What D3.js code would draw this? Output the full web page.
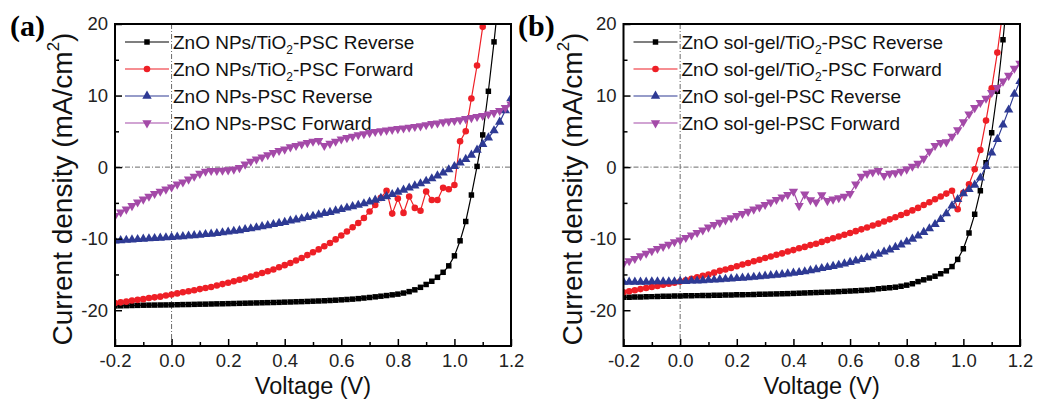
<!DOCTYPE html>
<html>
<head>
<meta charset="utf-8">
<script src="https://cdn.jsdelivr.net/npm/d3@7"></script>
<style>
  body { margin: 0; background: #fff; }
  svg { display: block; font-family: "Liberation Sans", Arial, sans-serif; }
</style>
</head>
<body>
<svg id="chart" width="1037" height="400"></svg>
<script>
// voltage sweep grid (V): every series starts at -0.2 V, 0.02 V per point
var voltStart = -0.2, voltStep = 0.02;

// panel (a) current densities, mA/cm2
var npsTiO2Rev = [-19.4,-19.38,-19.36,-19.34,-19.32,-19.3,-19.29,-19.28,-19.27,-19.26,
  -19.25,-19.23,-19.21,-19.2,-19.18,-19.16,-19.15,-19.13,-19.11,-19.1,
  -19.08,-19.06,-19.04,-19.02,-19.0,-18.98,-18.96,-18.94,-18.92,-18.9,
  -18.87,-18.85,-18.82,-18.8,-18.77,-18.74,-18.71,-18.68,-18.64,-18.6,
  -18.55,-18.5,-18.45,-18.38,-18.3,-18.22,-18.13,-18.04,-17.95,-17.85,
  -17.75,-17.6,-17.4,-17.15,-16.8,-16.4,-15.95,-15.4,-14.7,-13.8,
  -12.4,-10.3,-7.6,-3.9,0.1,4.5,10.6,17.5,25];
var npsTiO2Fwd = [-19.0,-18.9,-18.8,-18.65,-18.55,-18.45,-18.3,-18.2,-18.1,-17.95,
  -17.8,-17.65,-17.5,-17.35,-17.2,-17.05,-16.9,-16.75,-16.55,-16.35,
  -16.15,-15.95,-15.75,-15.55,-15.3,-15.05,-14.8,-14.55,-14.3,-14.0,
  -13.7,-13.4,-13.05,-12.7,-12.3,-11.9,-11.5,-11.05,-10.6,-10.1,
  -9.55,-9.0,-8.4,-7.8,-7.1,-6.2,-5.3,-4.3,-3.3,-6.5,
  -4.4,-6.4,-4.1,-5.7,-6.1,-3.4,-4.6,-4.6,-2.9,-3.1,
  -2.5,3.6,5.0,9.6,14.2,19.6,26];
var npsRev = [-10.3,-10.25,-10.2,-10.15,-10.1,-10.05,-10.0,-9.95,-9.9,-9.85,
  -9.8,-9.75,-9.7,-9.6,-9.55,-9.5,-9.4,-9.35,-9.25,-9.15,
  -9.05,-8.95,-8.85,-8.7,-8.6,-8.45,-8.3,-8.15,-8.0,-7.85,
  -7.7,-7.5,-7.35,-7.2,-7.0,-6.85,-6.65,-6.45,-6.3,-6.1,
  -5.9,-5.7,-5.5,-5.3,-5.1,-4.85,-4.6,-4.35,-4.1,-3.8,
  -3.5,-3.2,-2.9,-2.6,-2.3,-1.95,-1.6,-1.2,-0.8,-0.35,
  0.1,0.6,1.1,1.7,2.4,3.2,4.1,5.1,6.3,7.9,9.6];
var npsFwd = [-6.8,-6.3,-5.9,-5.4,-4.9,-4.5,-4.1,-3.7,-3.4,-3.1,
  -2.8,-2.4,-2.1,-1.7,-1.3,-0.9,-0.6,-0.5,-0.5,-0.45,
  -0.4,-0.3,-0.1,0.4,0.8,1.1,1.4,1.7,2.0,2.3,
  2.5,2.8,3.0,3.2,3.4,3.6,3.7,3.0,3.3,3.6,
  3.9,4.1,4.3,4.5,4.65,4.8,4.95,5.05,5.15,5.25,
  5.35,5.45,5.55,5.65,5.75,5.9,6.05,6.15,6.3,6.4,
  6.5,6.6,6.75,6.9,7.05,7.2,7.4,7.6,7.9,8.3,8.8];

// panel (b) current densities, mA/cm2
var solTiO2Rev = [-18.2,-18.18,-18.16,-18.14,-18.12,-18.1,-18.08,-18.06,-18.04,-18.02,
  -18.0,-17.99,-17.97,-17.96,-17.94,-17.93,-17.91,-17.9,-17.88,-17.87,
  -17.85,-17.84,-17.82,-17.8,-17.78,-17.76,-17.74,-17.72,-17.7,-17.68,
  -17.65,-17.62,-17.59,-17.56,-17.53,-17.5,-17.47,-17.44,-17.4,-17.36,
  -17.32,-17.28,-17.23,-17.18,-17.12,-17.0,-16.93,-16.86,-16.78,-16.65,
  -16.5,-16.3,-16.0,-15.75,-15.5,-15.25,-14.9,-14.5,-13.9,-12.9,
  -11.4,-9.2,-6.6,-3.3,0.6,4.8,10.6,17.8,26];
var solTiO2Fwd = [-17.5,-17.35,-17.2,-17.05,-16.9,-16.75,-16.6,-16.45,-16.3,-16.15,
  -16.0,-15.8,-15.6,-15.4,-15.2,-15.0,-14.75,-14.5,-14.3,-14.1,
  -13.85,-13.6,-13.4,-13.15,-12.95,-12.7,-12.5,-12.25,-12.05,-11.8,
  -11.6,-11.35,-11.15,-10.9,-10.7,-10.45,-10.2,-9.95,-9.7,-9.45,
  -9.2,-8.95,-8.7,-8.45,-8.15,-7.9,-7.6,-7.3,-7.0,-6.7,
  -6.4,-6.05,-5.7,-5.3,-4.9,-4.5,-4.1,-3.7,-3.3,-5.9,
  -3.6,-2.4,-0.3,2.4,6.5,11.0,16.0,22.0];
var solRev = [-16.05,-16.05,-16.05,-16.05,-16.05,-16.0,-16.0,-16.0,-16.0,-16.0,
  -15.95,-15.95,-15.9,-15.9,-15.85,-15.8,-15.75,-15.7,-15.65,-15.6,
  -15.55,-15.5,-15.45,-15.38,-15.3,-15.22,-15.15,-15.08,-15.0,-14.9,
  -14.8,-14.7,-14.6,-14.45,-14.3,-14.15,-14.0,-13.85,-13.7,-13.5,
  -13.3,-13.1,-12.9,-12.65,-12.4,-12.15,-11.85,-11.55,-11.2,-10.85,
  -10.45,-10.05,-9.6,-9.1,-8.6,-8.0,-7.3,-6.5,-5.4,-4.5,
  -3.7,-3.1,-2.5,-1.5,0.1,2.0,3.9,5.9,8.0,10.2,12.0];
var solFwd = [-13.5,-13.1,-12.8,-12.4,-12.05,-11.7,-11.4,-11.1,-10.8,-10.45,
  -10.2,-9.85,-9.5,-9.15,-8.8,-8.4,-8.05,-7.75,-7.4,-7.1,
  -6.8,-6.5,-6.2,-5.9,-5.6,-5.25,-4.9,-4.55,-4.2,-3.85,
  -3.4,-5.4,-3.8,-4.6,-4.9,-3.9,-4.7,-4.5,-4.3,-4.1,
  -3.7,-2.4,-1.3,-0.9,-0.7,-0.5,-1.2,-0.9,-0.8,-0.6,
  -0.3,0.1,0.5,1.2,2.2,3.0,3.4,3.5,4.3,5.2,
  6.3,7.4,8.3,9.0,9.6,10.4,11.1,12.0,12.8,13.8,14.5];

var legendA = ["ZnO NPs/TiO_2-PSC Reverse", "ZnO NPs/TiO_2-PSC Forward", "ZnO NPs-PSC Reverse", "ZnO NPs-PSC Forward"];
var legendB = ["ZnO sol-gel/TiO_2-PSC Reverse", "ZnO sol-gel/TiO_2-PSC Forward", "ZnO sol-gel-PSC Reverse", "ZnO sol-gel-PSC Forward"];

var xTicks = [-0.2, 0, 0.2, 0.4, 0.6, 0.8, 1.0, 1.2];
var xMinor = [-0.1, 0.1, 0.3, 0.5, 0.7, 0.9, 1.1];
var yTicks = [-20, -10, 0, 10, 20];
var yMinor = [-15, -5, 5, 15];

var colors = ["#000000", "#ee1f26", "#2e3a94", "#a44aa8"];
var shapes = ["square", "circle", "up", "down"];

var svg = d3.select("#chart");

var panels = [
  { tag: "(a)", tagX: 10, left: 115, right: 511, top: 24, bottom: 346, titleX: 72,
    series: [npsTiO2Rev, npsTiO2Fwd, npsRev, npsFwd], legend: legendA },
  { tag: "(b)", tagX: 518, left: 623.5, right: 1020, top: 24, bottom: 346, titleX: 582,
    series: [solTiO2Rev, solTiO2Fwd, solRev, solFwd], legend: legendB }
];

function symbolPath(kind) {
  if (kind == "square") return d3.symbol(d3.symbolSquare, 30)();
  if (kind == "circle") return d3.symbol(d3.symbolCircle, 34)();
  return d3.symbol(d3.symbolTriangle, 38)();
}
function placeMarker(sel, kind, x, y) {
  return sel.attr("transform", "translate(" + x + "," + y + ")" + (kind == "down" ? "rotate(180)" : ""));
}

panels.forEach(function(p, pi) {
  var x = d3.scaleLinear().domain([-0.2, 1.2]).range([p.left, p.right]);
  var y = d3.scaleLinear().domain([-25, 20]).range([p.bottom, p.top]);
  var g = svg.append("g");

  var clipId = "clip" + pi;
  svg.append("clipPath").attr("id", clipId).append("rect")
      .attr("x", p.left).attr("y", p.top)
      .attr("width", p.right - p.left).attr("height", p.bottom - p.top);

  // zero reference lines
  g.append("line").attr("x1", x(0)).attr("x2", x(0)).attr("y1", p.top).attr("y2", p.bottom)
      .attr("stroke", "#444").attr("stroke-width", 0.8).attr("stroke-dasharray", "5,2,1,2");
  g.append("line").attr("x1", p.left).attr("x2", p.right).attr("y1", y(0)).attr("y2", y(0))
      .attr("stroke", "#444").attr("stroke-width", 0.8).attr("stroke-dasharray", "5,2,1,2");

  // curves
  var plot = g.append("g").attr("clip-path", "url(#" + clipId + ")");
  p.series.forEach(function(vals, si) {
    var pts = vals.map(function(j, i) { return [Math.round((voltStart + i * voltStep) * 100) / 100, j]; });
    var line = d3.line().x(function(d) { return x(d[0]); }).y(function(d) { return y(d[1]); });
    plot.append("path").datum(pts).attr("d", line)
        .attr("fill", "none").attr("stroke", colors[si]).attr("stroke-width", 1.2);
    plot.append("g").selectAll("path").data(pts).enter().append("path")
        .attr("d", symbolPath(shapes[si]))
        .attr("fill", colors[si])
        .each(function(d) { placeMarker(d3.select(this), shapes[si], x(d[0]), y(d[1])); });
  });

  // axes, ticks inward
  var fmtX = function(d) { return d.toFixed(1); };
  var fmtY = function(d) { return String(d); };
  g.append("g").attr("transform", "translate(0," + p.bottom + ")")
      .call(d3.axisBottom(x).tickValues(xTicks).tickFormat(fmtX).tickSize(-7).tickPadding(8));
  g.append("g").attr("transform", "translate(0," + p.bottom + ")")
      .call(d3.axisBottom(x).tickValues(xMinor).tickFormat("").tickSize(-4));
  g.append("g").attr("transform", "translate(" + p.left + ",0)")
      .call(d3.axisLeft(y).tickValues(yTicks).tickFormat(fmtY).tickSize(-7).tickPadding(7));
  g.append("g").attr("transform", "translate(" + p.left + ",0)")
      .call(d3.axisLeft(y).tickValues(yMinor).tickFormat("").tickSize(-4));
  g.selectAll(".domain").remove();
  g.selectAll(".tick line").attr("stroke", "#000").attr("stroke-width", 1.5);
  g.selectAll(".tick text").attr("font-size", 18.5).attr("fill", "#222")
      .attr("font-family", "Liberation Sans, Arial, sans-serif");

  // frame
  g.append("rect").attr("x", p.left).attr("y", p.top)
      .attr("width", p.right - p.left).attr("height", p.bottom - p.top)
      .attr("fill", "none").attr("stroke", "#000").attr("stroke-width", 2);

  // axis titles
  g.append("text").attr("x", (p.left + p.right) / 2).attr("y", 394)
      .attr("text-anchor", "middle").attr("font-size", 23.5).attr("fill", "#111")
      .text("Voltage (V)");
  var yt = g.append("text").attr("transform", "translate(" + p.titleX + ",189) rotate(-90)")
      .attr("text-anchor", "middle").attr("font-size", 28).attr("fill", "#111");
  yt.append("tspan").text("Current density (mA/cm");
  yt.append("tspan").attr("font-size", 17).attr("dy", -13).text("2");
  yt.append("tspan").attr("dy", 13).text(")");

  // panel tag
  g.append("text").attr("x", p.tagX).attr("y", 36)
      .attr("font-family", "Liberation Serif, Times New Roman, serif")
      .attr("font-weight", "bold").attr("font-size", 30).text(p.tag);

  // legend
  var lx = p.left + 10, rowH = 27, ly0 = 42;
  p.legend.forEach(function(lab, li) {
    var ly = ly0 + li * rowH;
    g.append("line").attr("x1", lx).attr("x2", lx + 44).attr("y1", ly).attr("y2", ly)
        .attr("stroke", colors[li]).attr("stroke-width", 1.2);
    placeMarker(g.append("path").attr("d", symbolPath(shapes[li])).attr("fill", colors[li]),
        shapes[li], lx + 22, ly);
    var t = g.append("text").attr("x", lx + 48).attr("y", ly + 7)
        .attr("font-size", 19).attr("fill", "#111");
    var parts = lab.split("_2");
    t.append("tspan").text(parts[0]);
    if (parts.length > 1) {
      t.append("tspan").attr("font-size", 12).attr("dy", 5).text("2");
      t.append("tspan").attr("dy", -5).text(parts[1]);
    }
  });
});
</script>
</body>
</html>
